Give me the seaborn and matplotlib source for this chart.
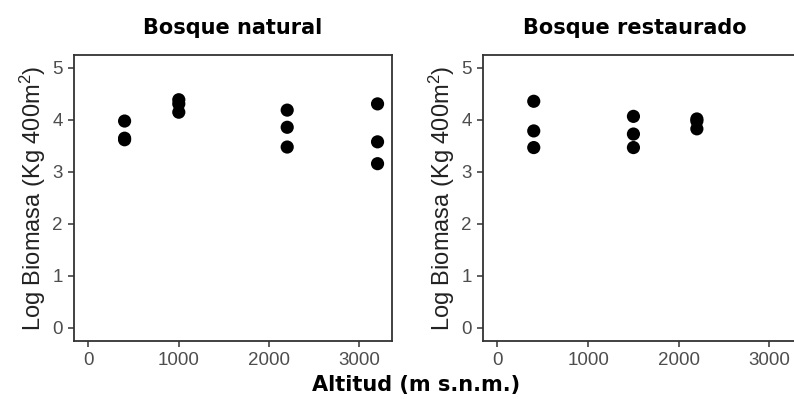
import matplotlib
matplotlib.use("Agg")
import matplotlib.pyplot as plt
import seaborn as sns
import pandas as pd

# Biomass per plot by altitude, natural forest
natural_alt = [400, 400, 400, 1000, 1000, 1000, 2200, 2200, 2200, 3200, 3200, 3200]
natural_bio = [3.98, 3.62, 3.65, 4.39, 4.31, 4.15, 4.19, 3.86, 3.48, 4.31, 3.58, 3.16]

# Biomass per plot by altitude, restored forest
restored_alt = [400, 400, 400, 1500, 1500, 1500, 2200, 2200, 2200]
restored_bio = [4.36, 3.79, 3.47, 4.07, 3.73, 3.47, 4.02, 3.98, 3.83]

panel_titles = ["Bosque natural", "Bosque restaurado"]
x_ticks = [0, 1000, 2000, 3000]
y_ticks = [0, 1, 2, 3, 4, 5]
y_label = "Log Biomasa (Kg 400m$^{2}$)"
x_label = "Altitud (m s.n.m.)"

sns.set_theme(style="white")
plt.rcParams["font.family"] = ["Liberation Sans", "DejaVu Sans"]
plt.rcParams["mathtext.fontset"] = "custom"
plt.rcParams["mathtext.rm"] = "Liberation Sans"
plt.rcParams["mathtext.default"] = "regular"

frames = [
    pd.DataFrame({"altitud": natural_alt, "biomasa": natural_bio}),
    pd.DataFrame({"altitud": restored_alt, "biomasa": restored_bio}),
]

fig = plt.figure(figsize=(7.94, 3.99), dpi=100)
W, H = 794, 399
boxes = [(74, 392), (483, 802)]
top_px, bot_px = 55, 341

border = "#333333"
tick_col = "#4D4D4D"

for (l, r), df, title in zip(boxes, frames, panel_titles):
    ax = fig.add_axes([l / W, 1 - bot_px / H, (r - l) / W, (bot_px - top_px) / H])
    sns.scatterplot(data=df, x="altitud", y="biomasa", ax=ax, color="black",
                    s=90, edgecolor="none", linewidth=0)
    ax.set_xlim(-160, 3360)
    ax.set_ylim(-0.25, 5.25)
    ax.set_xticks(x_ticks)
    ax.set_yticks(y_ticks)
    ax.set_xlabel("")
    ax.set_ylabel(y_label, fontsize=17, color="#222222", labelpad=3)
    ax.tick_params(axis="both", which="major", length=4.5, width=1.1,
                   color=border, labelcolor=tick_col, labelsize=13.5, pad=3.5,
                   bottom=True, left=True)
    for sp in ax.spines.values():
        sp.set_color(border)
        sp.set_linewidth(1.3)
    ax.grid(False)
    cx = (l + min(r, 786)) / 2 if r > W else (l + r) / 2
    fig.text(cx / W, 1 - 28 / H, title, ha="center", va="center",
             fontsize=15, fontweight="bold", family="DejaVu Sans", color="black")

fig.text(416 / W, 1 - 385 / H, x_label, ha="center", va="center",
         fontsize=15, fontweight="bold", family="DejaVu Sans", color="black")

fig.savefig("out.png", dpi=100)
